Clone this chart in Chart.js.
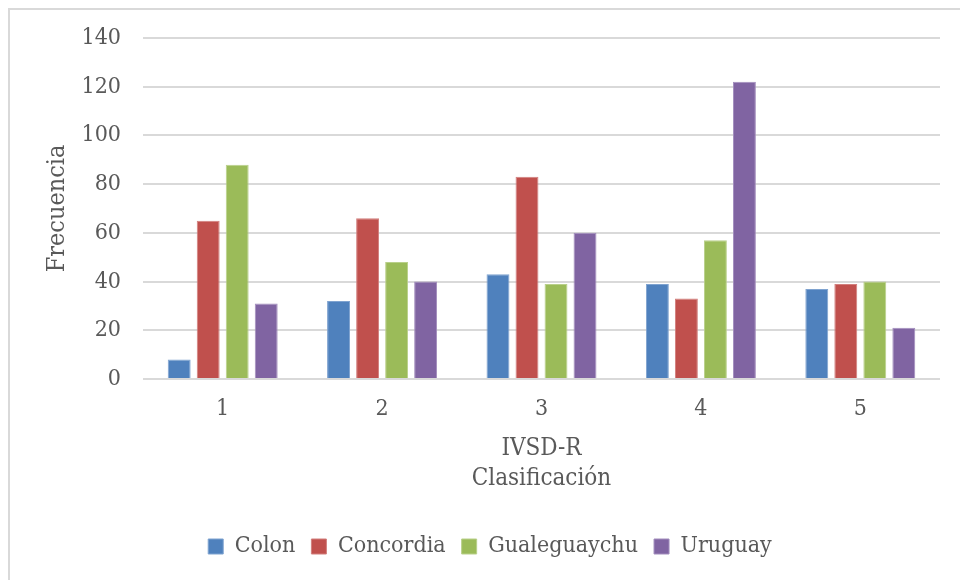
<!DOCTYPE html>
<html>
<head>
<meta charset="utf-8">
<script src="https://cdn.jsdelivr.net/npm/chart.js@4/dist/chart.umd.min.js"></script>
<style>
  html, body { margin: 0; padding: 0; background: #fff; }
  #wrap { width: 960px; height: 580px; position: relative; }
</style>
</head>
<body>
<div id="wrap"><canvas id="c" width="960" height="580"></canvas></div>
<script>
// Frequency of IVSD-R classification by department
const categories = ['1', '2', '3', '4', '5'];
const colon        = [8, 32, 43, 39, 37];
const concordia    = [65, 66, 83, 33, 39];
const gualeguaychu = [88, 48, 39, 57, 40];
const uruguay      = [31, 40, 60, 122, 21];
const yTicks = [0, 20, 40, 60, 80, 100, 120, 140];

const FONT = "'DejaVu Serif Condensed', 'DejaVu Serif', serif";
const TEXT = '#595959';
const GRID = '#D9D9D9';

// Light frame along the top and left edge of the chart box
const framePlugin = {
  id: 'frame',
  beforeDraw(chart) {
    const ctx = chart.ctx;
    ctx.save();
    ctx.fillStyle = '#fff';
    ctx.fillRect(0, 0, chart.width, chart.height);
    ctx.strokeStyle = GRID;
    ctx.lineWidth = 2;
    ctx.beginPath();
    ctx.moveTo(9, chart.height);
    ctx.lineTo(9, 9);
    ctx.lineTo(chart.width, 9);
    ctx.stroke();
    ctx.restore();
  }
};

function series(label, data, fill, edge) {
  return {
    label, data,
    backgroundColor: fill,
    borderColor: edge,
    borderWidth: 1,
    categoryPercentage: 0.728,
    barPercentage: 0.79
  };
}

new Chart(document.getElementById('c'), {
  type: 'bar',
  data: {
    labels: categories,
    datasets: [
      series('Colon', colon, '#4F81BD', '#7FA3D0'),
      series('Concordia', concordia, '#C0504D', '#D27F7D'),
      series('Gualeguaychu', gualeguaychu, '#9BBB59', '#B9D08A'),
      series('Uruguay', uruguay, '#8064A2', '#A28DBD')
    ]
  },
  options: {
    responsive: false,
    animation: false,
    layout: { padding: { left: 40, top: 38, right: 20, bottom: 12 } },
    plugins: {
      tooltip: { enabled: false },
      legend: {
        position: 'bottom',
        labels: {
          font: { family: FONT, size: 23 },
          color: TEXT,
          boxWidth: 15,
          boxHeight: 15,
          padding: 16
        }
      }
    },
    scales: {
      x: {
        grid: { display: false, drawTicks: false },
        border: { display: false },
        ticks: { font: { family: FONT, size: 23 }, color: TEXT, padding: 16 },
        title: {
          display: true,
          text: ['IVSD-R', 'Clasificación'],
          font: { family: FONT, size: 24, lineHeight: 1.25 },
          color: TEXT,
          padding: { top: 4, bottom: 25 }
        },
        afterFit(scale) { scale.height = 140; }
      },
      y: {
        min: 0, max: 140,
        afterBuildTicks(scale) { scale.ticks = yTicks.map(v => ({ value: v })); },
        grid: { color: GRID, lineWidth: 2, drawTicks: false },
        border: { display: false },
        ticks: { font: { family: FONT, size: 23 }, color: TEXT, padding: 22 },
        title: {
          display: true,
          text: 'Frecuencia',
          font: { family: FONT, size: 25 },
          color: TEXT,
          padding: { top: 2, bottom: 0 }
        },
        afterFit(scale) { scale.width = 103; }
      }
    }
  },
  plugins: [framePlugin]
});
</script>
</body>
</html>
